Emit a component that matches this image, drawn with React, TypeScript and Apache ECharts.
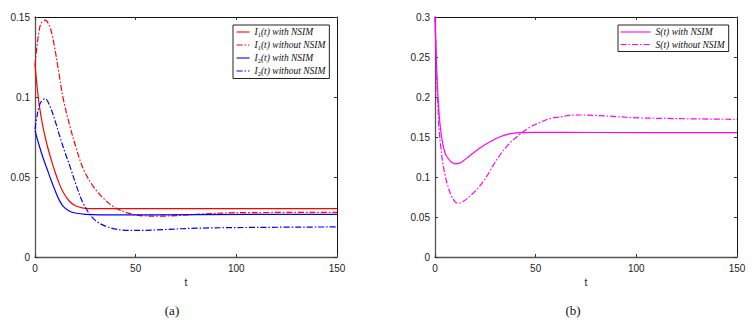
import React, { useEffect, useRef } from "react";
import * as echarts from "echarts";

// ---- Panel (a): I1, I2 ----
const i1WithT = [0, 1, 2, 3, 4, 6, 8, 10, 12, 14, 17, 20, 24, 30, 50, 80, 110, 150];
const i1WithV = [0.12, 0.107, 0.096, 0.088, 0.081, 0.07, 0.061, 0.053, 0.046, 0.0405, 0.035, 0.032, 0.0306, 0.0302, 0.0302, 0.0302, 0.0302, 0.0302];

const i1WithoutT = [0, 1, 2, 3, 5, 7, 9, 12, 14, 17.4, 20.7, 24, 29, 34, 39, 45.5, 54, 62, 72, 85, 100, 150];
const i1WithoutV = [0.12, 0.132, 0.141, 0.146, 0.148, 0.145, 0.136, 0.114, 0.099, 0.0815, 0.067, 0.055, 0.044, 0.0367, 0.0315, 0.0277, 0.0257, 0.0255, 0.026, 0.027, 0.0277, 0.0279];

const i2WithT = [0, 2, 4, 6, 8, 10, 12, 14, 17, 20, 25, 40, 80, 150];
const i2WithV = [0.079, 0.07, 0.062, 0.055, 0.048, 0.0415, 0.0357, 0.0317, 0.0288, 0.0275, 0.0267, 0.0263, 0.0265, 0.0267];

const i2WithoutT = [0, 1, 2, 3, 5, 7.5, 10, 12.4, 15, 17.4, 20.7, 24, 29, 35.6, 45.5, 55, 65, 80, 110, 150];
const i2WithoutV = [0.08, 0.088, 0.094, 0.097, 0.099, 0.094, 0.085, 0.075, 0.065, 0.0565, 0.044, 0.0335, 0.024, 0.019, 0.0167, 0.0167, 0.0172, 0.018, 0.0185, 0.0188];

// ---- Panel (b): S ----
const sWithT = [0, 0.5, 1, 1.5, 2, 3, 4, 5, 6, 8, 10, 12, 14, 17, 20, 24, 28, 32, 37, 42, 50, 80, 150];
const sWithV = [0.3, 0.26, 0.225, 0.2, 0.18, 0.155, 0.14, 0.13, 0.125, 0.119, 0.1165, 0.117, 0.12, 0.126, 0.132, 0.139, 0.145, 0.15, 0.154, 0.1555, 0.1558, 0.1556, 0.1555];

const sWithoutT = [0, 0.5, 1, 1.5, 2, 3, 4, 5, 6, 8, 10, 11.5, 13, 16, 19, 22, 26, 29, 33, 37, 43, 47, 52, 57, 62, 67, 72, 80, 90, 100, 120, 150];
const sWithoutV = [0.3, 0.255, 0.215, 0.185, 0.16, 0.135, 0.115, 0.1025, 0.092, 0.077, 0.069, 0.067, 0.068, 0.073, 0.08, 0.088, 0.102, 0.115, 0.13, 0.142, 0.155, 0.162, 0.168, 0.173, 0.175, 0.177, 0.1775, 0.177, 0.1755, 0.174, 0.173, 0.172];

const xTicks = [0, 50, 100, 150];
const leftYTicks = [0, 0.05, 0.1, 0.15];
const rightYTicks = [0, 0.05, 0.1, 0.15, 0.2, 0.25, 0.3];

const names = {
  i1w: "I1(t) with NSIM",
  i1wo: "I1(t) without NSIM",
  i2w: "I2(t) with NSIM",
  i2wo: "I2(t) without NSIM",
  sw: "S(t) with NSIM",
  swo: "S(t) without NSIM",
};

const legendRich: Record<string, string> = {
  [names.i1w]: "{i|I}{s|1}{i|(t) with NSIM}",
  [names.i1wo]: "{i|I}{s|1}{i|(t) without NSIM}",
  [names.i2w]: "{i|I}{s|2}{i|(t) with NSIM}",
  [names.i2wo]: "{i|I}{s|2}{i|(t) without NSIM}",
  [names.sw]: "{i|S(t) with NSIM}",
  [names.swo]: "{i|S(t) without NSIM}",
};

const zip = (t: number[], v: number[]) => t.map((x, k) => [x, v[k]]);

const SANS = "'Liberation Sans', Arial, sans-serif";
const SERIF = "'Liberation Serif', 'DejaVu Serif', serif";
const DASHDOT = [6, 2, 1.5, 2];

export default function App() {
  const ref = useRef<HTMLDivElement>(null);
  useEffect(() => {
    if (!ref.current) return;
    const chart = echarts.init(ref.current, undefined, { renderer: "svg" });

    const xBottom = (gi: number) => ({
      type: "value",
      gridIndex: gi,
      position: "bottom",
      min: xTicks[0],
      max: xTicks[xTicks.length - 1],
      interval: 50,
      name: "t",
      nameLocation: "middle",
      nameGap: 20,
      nameTextStyle: { fontFamily: SANS, fontSize: 10, color: "#222" },
      axisLine: { onZero: false, lineStyle: { color: "#555", width: 1.3 } },
      axisTick: { inside: true, length: 3, lineStyle: { color: "#333" } },
      axisLabel: { fontFamily: SANS, fontSize: 10, color: "#222", margin: 6 },
      splitLine: { show: false },
    });
    const xTop = (gi: number) => ({
      type: "value",
      gridIndex: gi,
      position: "top",
      min: xTicks[0],
      max: xTicks[xTicks.length - 1],
      interval: 50,
      axisLine: { onZero: false, lineStyle: { color: "#111", width: 1 } },
      axisTick: { inside: true, length: 3, lineStyle: { color: "#333" } },
      axisLabel: { show: false },
      splitLine: { show: false },
    });
    const yLeft = (gi: number, ticks: number[]) => ({
      type: "value",
      gridIndex: gi,
      position: "left",
      min: 0,
      max: ticks[ticks.length - 1],
      interval: 0.05,
      axisLine: { show: true, onZero: false, lineStyle: { color: "#555", width: 1.3 } },
      axisTick: { show: true, inside: true, length: 3, lineStyle: { color: "#333" } },
      axisLabel: { fontFamily: SANS, fontSize: 10, color: "#222", margin: 5 },
      splitLine: { show: false },
    });
    const yRight = (gi: number, ticks: number[]) => ({
      type: "value",
      gridIndex: gi,
      position: "right",
      min: 0,
      max: ticks[ticks.length - 1],
      interval: 0.05,
      axisLine: { show: true, onZero: false, lineStyle: { color: "#111", width: 1 } },
      axisTick: { show: true, inside: true, length: 3, lineStyle: { color: "#333" } },
      axisLabel: { show: false },
      splitLine: { show: false },
    });

    const line = (name: string, data: number[][], color: string, dash: boolean, xi: number, yi: number) => ({
      type: "line",
      name,
      data,
      xAxisIndex: xi,
      yAxisIndex: yi,
      symbol: "none",
      smooth: 0.35,
      lineStyle: { color, width: 1.2, type: dash ? DASHDOT : "solid" },
      itemStyle: { color },
    });

    const legendCommon = {
      orient: "vertical",
      backgroundColor: "#fff",
      borderColor: "#222",
      borderWidth: 1,
      borderRadius: 0,
      itemHeight: 8,
      itemGap: 2.5,
      selectedMode: false,
      itemStyle: { opacity: 0 },
      lineStyle: { width: 1.1 },
      formatter: (n: string) => legendRich[n] || n,
      textStyle: {
        color: "#111",
        rich: {
          i: { fontFamily: SERIF, fontStyle: "italic", fontSize: 9.5, color: "#111" },
          s: { fontFamily: SERIF, fontSize: 6.5, color: "#111", verticalAlign: "bottom", padding: [4, 0, 0, 0] },
        },
      },
    };

    chart.setOption({
      animation: false,
      backgroundColor: "#fff",
      grid: [
        { left: 35, top: 17, width: 302, height: 240 },
        { left: 435, top: 17, width: 302, height: 240 },
      ],
      xAxis: [xBottom(0), xTop(0), xBottom(1), xTop(1)],
      yAxis: [yLeft(0, leftYTicks), yRight(0, leftYTicks), yLeft(1, rightYTicks), yRight(1, rightYTicks)],
      legend: [
        {
          ...legendCommon,
          left: 233,
          top: 25,
          padding: [2, 4, 2, 3],
          itemWidth: 13,
          data: [names.i1w, names.i1wo, names.i2w, names.i2wo],
        },
        {
          ...legendCommon,
          left: 618,
          top: 25,
          padding: [2, 4, 2, 2],
          itemWidth: 30,
          data: [names.sw, names.swo],
        },
      ],
      series: [
        line(names.i1w, zip(i1WithT, i1WithV), "#ff0000", false, 0, 0),
        line(names.i1wo, zip(i1WithoutT, i1WithoutV), "#ff0000", true, 0, 0),
        line(names.i2w, zip(i2WithT, i2WithV), "#0000ff", false, 0, 0),
        line(names.i2wo, zip(i2WithoutT, i2WithoutV), "#0000ff", true, 0, 0),
        line(names.sw, zip(sWithT, sWithV), "#ff00ff", false, 2, 2),
        line(names.swo, zip(sWithoutT, sWithoutV), "#ff00ff", true, 2, 2),
      ],
      graphic: [
        {
          type: "text",
          x: 172,
          y: 310,
          style: { text: "(a)", font: `13px ${SERIF}`, fill: "#111", textAlign: "center", textVerticalAlign: "middle" },
        },
        {
          type: "text",
          x: 573,
          y: 310,
          style: { text: "(b)", font: `13px ${SERIF}`, fill: "#111", textAlign: "center", textVerticalAlign: "middle" },
        },
      ],
    });
    return () => chart.dispose();
  }, []);

  return (
    <div
      ref={ref}
      style={{ position: "absolute", left: 0, top: 0, width: 756, height: 325, background: "#fff" }}
    />
  );
}
